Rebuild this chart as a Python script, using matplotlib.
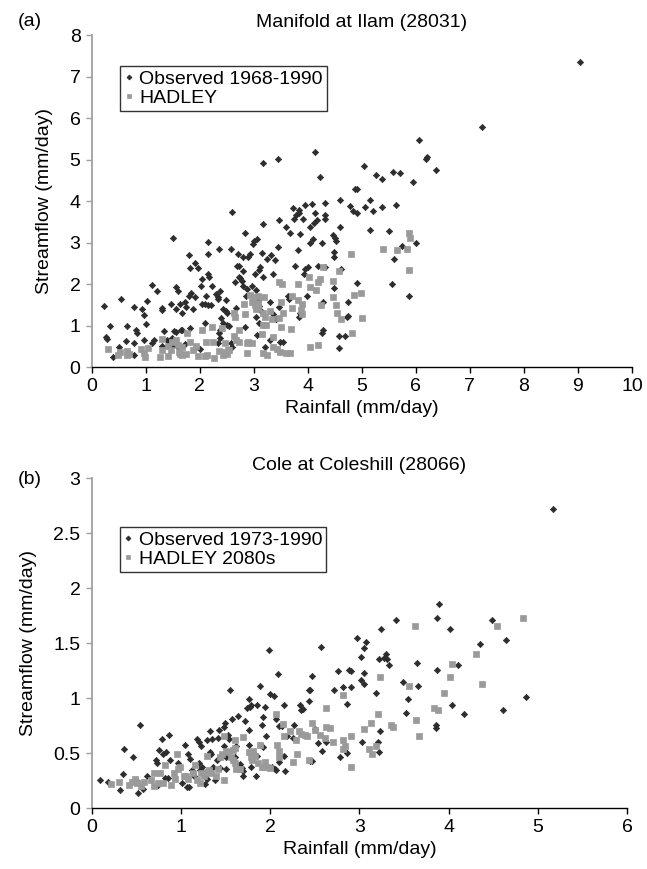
import matplotlib
matplotlib.use('Agg')
import matplotlib.pyplot as plt
from matplotlib import font_manager

names = set(f.name for f in font_manager.fontManager.ttflist)
mainFont = 'Liberation Sans Narrow' if 'Liberation Sans Narrow' in names else 'Liberation Sans'
plt.rcParams['font.family'] = [mainFont, 'DejaVu Sans']
fs = 16.5 if mainFont == 'Liberation Sans Narrow' else 14

# ========== data: (a) Manifold at Ilam ==========
obsA = [
    (0.22,1.48),(0.34,0.99),(0.27,0.73),(0.28,0.68),(0.39,0.24),(0.51,0.50),(0.54,1.65),(0.64,0.63),
    (0.65,0.99),(0.78,1.45),(0.79,0.29),(0.79,0.59),(0.82,0.90),(0.84,0.83),(0.93,1.40),(0.97,1.26),
    (0.97,0.67),(1.00,1.04),(1.03,1.61),(1.11,0.58),(1.12,1.99),(1.16,0.67),(1.21,1.85),(1.30,1.43),
    (1.30,1.37),(1.33,0.88),(1.40,0.66),(1.43,0.61),(1.46,1.53),(1.50,3.11),(1.53,0.88),(1.57,1.93),
    (1.59,1.84),(1.57,1.40),(1.60,0.50),(1.63,1.52),(1.65,0.90),(1.68,1.32),(1.72,1.58),(1.75,1.46),
    (1.80,1.72),(1.81,2.71),(1.82,2.39),(1.83,1.79),(1.88,1.40),(1.91,2.52),(1.91,1.70),(1.96,2.39),
    (2.01,0.43),(2.02,1.96),(2.04,2.14),(2.04,1.53),(2.10,1.53),(2.10,1.06),(2.12,1.72),(2.15,2.25),
    (2.18,2.18),(2.16,3.02),(2.15,2.72),(2.20,1.50),(2.23,1.96),(2.30,1.76),(2.33,1.70),(2.34,1.65),
    (2.36,2.85),(2.38,1.85),(2.40,1.18),(2.44,1.40),(2.48,1.62),(2.49,1.36),(2.51,1.30),(2.58,2.84),
    (2.59,0.50),(2.60,3.74),(2.65,2.05),(2.69,2.44),(2.72,2.44),(2.70,2.72),(2.72,2.17),(2.75,2.15),
    (2.78,2.08),(2.81,1.96),(2.80,2.67),(2.81,2.31),(2.83,3.23),(2.84,0.96),(2.85,1.72),(2.89,2.67),
    (2.93,2.72),(2.97,1.96),(2.99,2.98),(3.01,3.05),(3.06,3.08),(3.02,2.26),(3.05,1.86),(3.06,0.77),
    (3.10,2.34),(3.12,2.42),(3.15,2.75),(3.17,4.93),(3.18,3.45),(3.17,2.18),(3.21,0.48),(3.24,2.60),
    (3.30,1.58),(3.32,2.71),(3.36,2.26),(3.40,2.58),(3.45,5.01),(3.46,3.55),(3.45,2.89),(3.46,1.46),
    (3.49,0.62),(3.54,0.62),(3.59,3.37),(3.68,3.23),(3.72,3.83),(3.75,3.58),(3.79,3.67),(3.83,3.73),
    (3.77,2.44),(3.81,2.83),(3.83,3.79),(3.86,3.21),(3.91,3.58),(3.93,2.26),(3.94,3.91),(3.95,2.38),
    (3.98,1.73),(4.01,2.42),(4.04,2.99),(4.05,3.39),(4.07,3.93),(4.09,3.10),(4.11,3.47),(4.13,3.71),
    (4.17,3.55),(4.14,5.18),(4.18,2.45),(4.22,4.59),(4.26,0.82),(4.29,0.90),(4.27,2.99),(4.29,1.58),
    (4.31,3.96),(4.31,3.58),(4.31,3.68),(4.31,2.42),(4.46,3.19),(4.50,3.11),(4.52,3.05),(4.49,2.77),
    (4.49,2.67),(4.49,1.91),(4.58,0.46),(4.58,0.75),(4.68,0.75),(4.60,4.02),(4.60,3.37),(4.61,2.38),
    (4.72,1.22),(4.75,1.24),(4.75,1.58),(4.78,3.88),(4.83,3.77),(4.87,4.30),(4.91,4.30),(4.91,3.73),
    (4.91,2.04),(5.04,4.85),(5.05,3.87),(5.15,4.02),(5.15,3.32),(5.20,3.77),(5.26,4.63),
    (9.03,7.36),(7.23,5.79),(6.05,5.48),(6.19,5.02),(6.21,5.07),(6.37,4.75),(5.57,4.71),(5.71,4.69),
    (5.95,4.46),(5.38,4.53),(5.64,3.92),(5.38,3.86),(5.50,3.28),(6.01,2.99),(5.74,2.92),(5.60,2.62),
    (5.56,2.01),(5.88,1.73),
    (1.30,0.52),(1.45,0.63),(1.48,0.70),(1.48,0.52),(1.56,0.86),(1.68,0.90),(1.72,0.56),(1.82,0.94),
    (1.94,0.50),(2.44,1.06),(2.50,1.02),(2.55,0.99),(2.38,0.91),(2.36,0.82),(2.38,0.70),(2.34,0.59),
    (2.58,0.58),(3.10,1.08),(3.30,0.66),(3.07,1.61),(3.10,1.48),(3.12,1.38),(3.04,1.22),(3.35,1.28),
    (3.41,1.16),(3.63,1.72),(3.66,1.64),(3.86,1.30),(3.84,1.22),(2.87,1.88),(2.67,1.44),(2.15,1.50),
]
hadA = [
    (0.31,0.43),(0.48,0.30),(0.52,0.36),(0.65,0.39),(0.65,0.30),(0.91,0.43),(0.96,0.34),(0.99,0.24),
    (1.04,0.47),(1.26,0.24),(1.31,0.69),(1.31,0.42),(1.42,0.27),(1.46,0.42),(1.56,0.66),(1.62,0.38),
    (1.67,0.30),(1.74,0.31),(1.77,0.82),(1.82,0.62),(1.88,0.42),(1.96,0.27),(2.04,0.91),(2.10,0.27),
    (2.14,0.29),(2.22,0.98),(2.27,0.23),(2.24,0.62),(2.36,0.39),(2.41,0.94),(2.44,0.30),(2.47,0.58),
    (2.55,0.42),(2.64,1.31),(2.67,0.66),(2.73,0.90),(2.82,1.53),(2.87,0.58),(2.90,0.62),(2.93,1.74),
    (2.96,1.58),(2.99,1.70),(3.02,1.50),(3.05,1.40),(3.17,0.34),(3.24,0.30),(3.35,0.50),(3.43,0.44),
    (3.48,0.36),(3.51,0.96),(3.59,0.34),(3.68,0.35),(3.69,0.92),(3.46,2.06),(3.52,2.00),(3.51,1.58),
    (3.71,1.72),(3.71,1.42),(3.81,2.00),(3.81,1.62),(3.89,1.53),(3.87,1.38),(4.03,2.18),(4.04,1.94),
    (4.04,0.50),(4.18,2.06),(4.18,0.54),(4.23,2.14),(4.29,2.41),(4.24,1.50),(4.46,2.09),(4.46,1.69),
    (4.52,1.49),(4.54,1.32),(4.57,2.33),(4.61,1.17),(4.80,2.73),(4.81,0.82),(4.85,1.74),(4.99,1.80),
    (5.01,1.20),(5.88,3.24),(5.89,3.11),(5.39,2.85),(5.65,2.83),(5.84,2.84),(5.87,2.35),(4.16,1.86),
    (2.65,1.22),(2.83,1.29),(3.08,1.56),(3.08,1.44),(3.18,1.32),(3.21,1.22),(3.30,1.36),(3.33,1.16),
    (3.89,1.28),(3.54,1.30),(3.47,1.18),(3.18,1.02),(3.23,1.02),(3.16,0.80),(3.36,0.74),(2.64,0.75),
    (2.53,0.41),(2.72,0.62),(2.96,0.58),(2.46,0.38),(2.50,0.32),(2.88,0.35),(3.08,1.72),(3.19,1.69),
    (0.70,0.32),(1.42,0.51),(1.48,0.62),(1.60,0.54),(1.64,0.32),(1.68,0.50),(1.93,0.51),(2.12,0.62),
]

# ========== data: (b) Cole at Coleshill ==========
obsB = [
    (0.09,0.26),(0.18,0.24),(0.32,0.17),(0.35,0.31),(0.36,0.54),(0.46,0.47),(0.51,0.25),(0.52,0.14),
    (0.54,0.76),(0.58,0.18),(0.62,0.29),(0.72,0.44),(0.73,0.41),(0.74,0.21),(0.75,0.53),(0.80,0.49),
    (0.83,0.51),(0.79,0.63),(0.82,0.28),(0.86,0.28),(0.87,0.67),(0.88,0.44),(0.97,0.41),(1.01,0.23),
    (1.05,0.58),(1.08,0.49),(1.10,0.45),(1.07,0.19),(1.09,0.19),(1.12,0.35),(1.14,0.32),(1.15,0.29),
    (1.18,0.63),(1.20,0.60),(1.22,0.57),(1.20,0.41),(1.21,0.35),(1.24,0.38),(1.27,0.22),(1.29,0.27),
    (1.29,0.62),(1.32,0.70),(1.33,0.51),(1.34,0.49),(1.35,0.63),(1.36,0.38),(1.38,0.26),(1.40,0.44),
    (1.41,0.64),(1.43,0.71),(1.44,0.37),(1.48,0.57),(1.48,0.74),(1.49,0.78),(1.51,0.47),(1.51,0.36),
    (1.53,0.67),(1.54,0.63),(1.55,1.08),(1.57,0.81),(1.58,0.44),(1.60,0.47),(1.62,0.57),(1.64,0.84),
    (1.66,0.40),(1.68,0.37),(1.70,0.34),(1.69,0.29),(1.72,0.79),(1.74,0.91),(1.76,0.99),(1.77,0.92),
    (1.78,0.94),(1.76,0.71),(1.76,0.58),(1.78,0.38),(1.81,0.51),(1.85,0.48),(1.84,0.29),(1.85,0.94),
    (1.89,1.11),(1.91,0.76),(1.92,0.83),(1.92,0.56),(1.94,0.92),(1.95,0.66),(1.99,1.44),(2.00,1.04),
    (2.04,1.02),(2.02,0.38),(2.05,0.36),(2.07,0.35),(2.07,0.81),(2.09,1.22),(2.10,0.75),(2.13,0.75),
    (2.10,0.42),(2.15,0.48),(2.15,0.94),(2.17,0.34),(2.19,0.66),(2.26,0.64),(2.27,0.76),(2.33,0.94),
    (2.35,0.89),(2.37,0.90),(2.44,1.08),(2.45,1.08),(2.44,0.98),(2.45,0.43),(2.47,1.20),(2.47,0.43),
    (2.50,0.72),(2.54,0.59),(2.58,0.52),(2.57,1.47),(2.63,0.60),(2.71,1.08),(2.76,1.25),(2.78,0.47),
    (2.82,1.10),(2.86,0.95),(2.86,0.50),(2.88,1.26),(2.91,1.25),(2.91,1.10),(2.97,1.55),(3.02,1.38),
    (3.05,1.46),(3.07,1.51),(3.05,1.23),(3.02,1.17),(3.05,1.13),(3.03,0.60),(3.19,1.05),(3.23,0.70),
    (3.21,0.60),(3.22,0.51),(3.24,1.63),(3.22,1.36),(3.28,1.37),(3.30,1.40),(3.31,1.36),(3.33,1.30),
    (3.41,1.71),(3.49,1.15),(3.52,0.87),(3.54,0.99),(3.65,1.32),(3.66,1.11),(3.87,1.73),(3.89,1.86),
    (3.87,1.26),(3.86,0.76),(3.86,0.73),(4.01,1.63),(4.04,0.94),(4.10,1.30),(4.17,0.86),(4.35,1.49),
    (4.48,1.71),(4.61,0.89),(4.64,1.53),(4.87,1.01),(5.17,2.72),
]
hadB = [
    (0.22,0.22),(0.31,0.24),(0.42,0.21),(0.45,0.24),(0.49,0.27),(0.51,0.23),(0.55,0.20),(0.59,0.24),
    (0.66,0.26),(0.70,0.32),(0.70,0.20),(0.74,0.23),(0.77,0.32),(0.80,0.23),(0.82,0.39),(0.89,0.21),
    (0.92,0.32),(0.93,0.27),(0.96,0.49),(0.97,0.36),(0.99,0.38),(1.03,0.29),(1.06,0.29),(1.08,0.27),
    (1.14,0.32),(1.16,0.39),(1.18,0.26),(1.21,0.23),(1.23,0.32),(1.26,0.29),(1.29,0.33),(1.31,0.35),
    (1.29,0.48),(1.34,0.32),(1.39,0.29),(1.41,0.36),(1.44,0.47),(1.46,0.49),(1.48,0.66),(1.48,0.26),
    (1.51,0.52),(1.54,0.51),(1.56,0.47),(1.58,0.53),(1.58,0.44),(1.61,0.55),(1.60,0.41),(1.61,0.62),
    (1.62,0.36),(1.66,0.36),(1.70,0.65),(1.76,0.51),(1.78,0.47),(1.80,0.44),(1.81,0.52),(1.83,0.48),
    (1.86,0.41),(1.89,0.58),(1.91,0.38),(1.92,0.38),(1.94,0.42),(1.96,0.38),(2.00,0.37),(2.06,0.86),
    (2.08,0.58),(2.10,0.52),(2.10,0.47),(2.14,0.77),(2.16,0.66),(2.22,0.70),(2.29,0.62),(2.32,0.70),
    (2.35,0.68),(2.39,0.67),(2.41,0.66),(2.26,0.42),(2.30,0.49),(2.44,0.44),(2.47,0.78),(2.50,0.71),
    (2.56,0.67),(2.61,0.64),(2.63,0.74),(2.67,0.73),(2.70,0.60),(2.63,0.91),(2.81,1.03),(2.81,0.62),
    (2.82,0.54),(2.84,0.57),(2.91,0.66),(2.91,0.38),(3.05,0.72),(3.13,0.78),(3.11,0.54),(3.14,0.49),
    (3.19,0.57),(3.21,0.86),(3.23,1.19),(3.35,0.76),(3.38,0.74),(3.56,1.11),(3.62,1.66),(3.63,0.80),
    (3.67,0.66),(3.83,0.91),(3.88,0.89),(3.95,1.05),(4.01,1.19),(4.04,1.31),(4.30,1.40),(4.37,1.13),
    (4.54,1.66),(4.83,1.73),
]

darkCol = '#2d2d2d'
greyCol = '#9a9a9a'

# ========== plot ==========
def plotPanel(ax, obs, had, obsLabel, hadLabel, title, xmax, ymax, ystep, yfmt, legTop):
    ax.plot([p[0] for p in obs], [p[1] for p in obs], linestyle='none', marker='D', ms=3.2,
            color=darkCol, mec=darkCol, mew=0.5, label=obsLabel, zorder=3)
    ax.plot([p[0] for p in had], [p[1] for p in had], linestyle='none', marker='s', ms=4.4,
            color=greyCol, mec=greyCol, mew=0.5, label=hadLabel, zorder=4)
    ax.set_xlim(0, xmax)
    ax.set_ylim(0, ymax)
    ax.set_xticks(range(0, xmax+1))
    yt = [i*ystep for i in range(int(round(ymax/ystep))+1)]
    ax.set_yticks(yt)
    ax.set_yticklabels([yfmt(v) for v in yt])
    ax.spines['top'].set_visible(False)
    ax.spines['right'].set_visible(False)
    ax.spines['left'].set_color('#a0a0a0')
    ax.spines['left'].set_linewidth(1.3)
    ax.spines['bottom'].set_color('black')
    ax.spines['bottom'].set_linewidth(1.0)
    ax.tick_params(axis='x', direction='out', length=4, width=1, colors='black', labelsize=fs, pad=4)
    ax.tick_params(axis='y', direction='out', length=4, width=1, color='#a0a0a0', labelcolor='black', labelsize=fs, pad=4)
    ax.set_xlabel('Rainfall (mm/day)', fontsize=fs, labelpad=3)
    ax.set_ylabel('Streamflow (mm/day)', fontsize=fs, labelpad=12)
    ax.set_title(title, fontsize=fs, pad=6)
    leg = ax.legend(loc='upper left', bbox_to_anchor=(0.052, legTop), frameon=True, fancybox=False,
                    edgecolor='black', fontsize=fs, handlelength=0.5, handletextpad=0.3,
                    borderpad=0.2, labelspacing=0.1, borderaxespad=0, markerscale=0.8)
    leg.get_frame().set_linewidth(1.0)

fig = plt.figure(figsize=(6.47, 8.69), dpi=100)
axA = fig.add_axes([0.1417, 0.5773, 0.835, 0.3821])
axB = fig.add_axes([0.1417, 0.0698, 0.8278, 0.3798])

plotPanel(axA, obsA, hadA, 'Observed 1968-1990', 'HADLEY', 'Manifold at Ilam (28031)',
          10, 8, 1, lambda v: '%d' % v, 0.907)
plotPanel(axB, obsB, hadB, 'Observed 1973-1990', 'HADLEY 2080s', 'Cole at Coleshill (28066)',
          6, 3, 0.5, lambda v: ('%g' % v), 0.852)

fig.text(0.028, 0.975, '(a)', fontsize=fs, va='center')
fig.text(0.028, 0.448, '(b)', fontsize=fs, va='center')

fig.savefig('out.png', dpi=100)
